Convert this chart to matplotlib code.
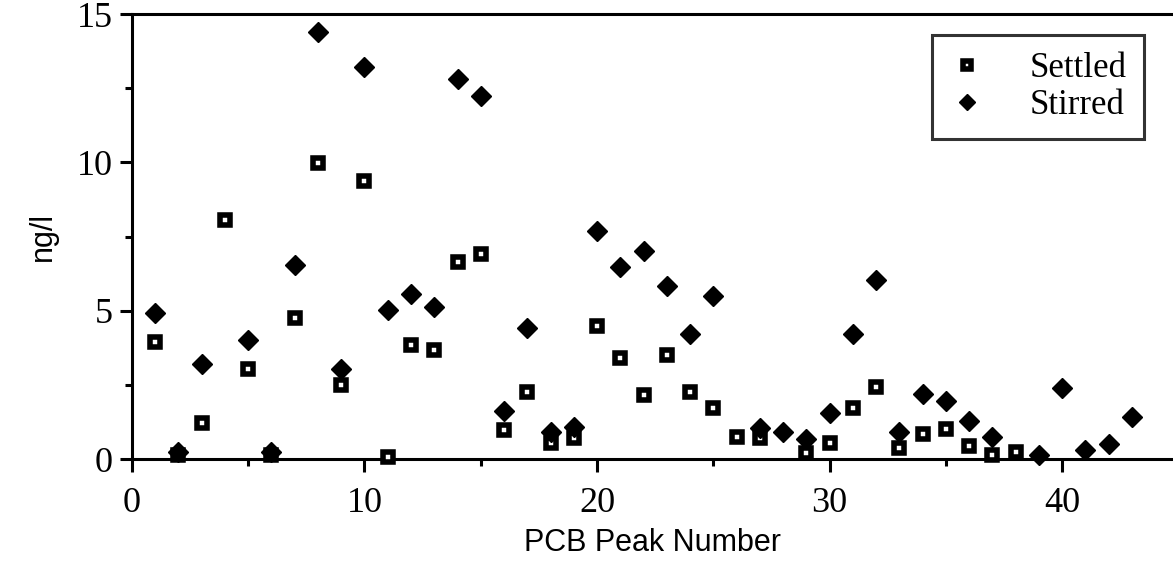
import numpy as np
import matplotlib
matplotlib.use("Agg")
import matplotlib.pyplot as plt
from matplotlib.ticker import MultipleLocator

# PCB peak numbers and concentrations (ng/l)
peaks = np.arange(1, 44)
settled = [3.93, 0.15, 1.23, 8.07, 3.03, 0.15, 4.74, 9.99, 2.50, 9.37,
           0.08, 3.85, 3.66, 6.64, 6.91, 0.98, 2.25, 0.53, 0.72, 4.50,
           3.42, 2.16, 3.51, 2.25, 1.71, 0.73, 0.70, np.nan, 0.19, 0.55,
           1.71, 2.44, 0.36, 0.84, 1.01, 0.45, 0.14, 0.25, np.nan, np.nan,
           np.nan, np.nan, np.nan]
stirred = [4.92, 0.25, 3.21, np.nan, 4.00, 0.25, 6.55, 14.38, 3.03, 13.22,
           5.03, 5.56, 5.11, 12.80, 12.24, 1.62, 4.41, 0.92, 1.09, 7.68,
           6.46, 7.00, 5.84, 4.21, 5.48, np.nan, 1.04, 0.92, 0.66, 1.54,
           4.22, 6.05, 0.92, 2.20, 1.94, 1.28, 0.75, np.nan, 0.14, 2.39,
           0.30, 0.50, 1.40]

serif = "Liberation Serif"
sans = "Liberation Sans"

fig = plt.figure(figsize=(11.73, 5.65), dpi=100)
ax = fig.add_axes([0.1125, 0.1876, 0.8875, 0.7876])

ax.plot(peaks, settled, "s", ms=7, mfc="white", mec="black", mew=4.0,
        label="Settled", clip_on=False, zorder=3)
ax.plot(peaks, stirred, "D", ms=10, color="black", label="Stirred",
        clip_on=False, zorder=4)

ax.set_xlim(0, 44.77)
ax.set_ylim(0, 15)
ax.xaxis.set_major_locator(MultipleLocator(10))
ax.xaxis.set_minor_locator(MultipleLocator(5))
ax.yaxis.set_major_locator(MultipleLocator(5))
ax.yaxis.set_minor_locator(MultipleLocator(2.5))

for s in ["left", "bottom", "top"]:
    ax.spines[s].set_linewidth(2.2)
ax.spines["right"].set_visible(False)

ax.tick_params(which="major", direction="out", length=9, width=2.2,
               labelsize=26)
ax.tick_params(which="minor", direction="out", length=5, width=2.2)
ax.tick_params(axis="x", pad=11)
ax.tick_params(axis="y", pad=5)
for lab in ax.get_xticklabels() + ax.get_yticklabels():
    lab.set_fontfamily(serif)

ax.set_xlabel("PCB Peak Number", family=sans, fontsize=22, labelpad=6)
ax.set_ylabel("ng/l", family=sans, fontsize=22, labelpad=13)

leg = ax.legend(loc="upper right", bbox_to_anchor=(0.972, 0.953),
                prop={"family": serif, "size": 25}, frameon=True,
                fancybox=False, edgecolor="black", handletextpad=1.3,
                handlelength=1.0, borderpad=0.5, labelspacing=0.1,
                borderaxespad=0, markerscale=0.8)
leg.get_frame().set_linewidth(2.2)

fig.savefig("out.png", dpi=100)
